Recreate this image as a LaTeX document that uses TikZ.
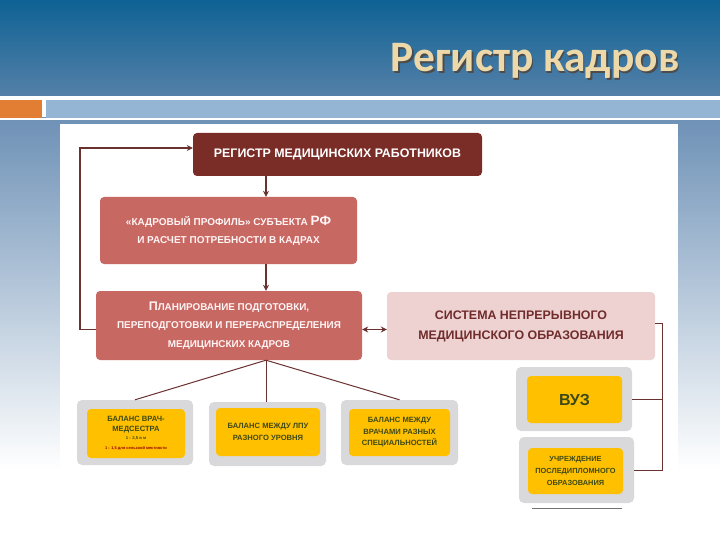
\documentclass[tikz,border=0pt]{standalone}
\usepackage{fontspec}
\setmainfont{Liberation Sans}
\newfontfamily\titlefont{Carlito}
\usetikzlibrary{arrows.meta,calc}
\definecolor{bandtop}{RGB}{14,98,148}
\definecolor{bandbot}{RGB}{84,128,168}
\definecolor{barblue}{RGB}{148,182,212}
\definecolor{barorange}{RGB}{226,126,52}
\definecolor{sideblue}{RGB}{110,145,182}
\definecolor{titlecol}{RGB}{236,216,168}
\definecolor{maroon}{RGB}{122,44,38}
\definecolor{salmon}{RGB}{200,104,99}
\definecolor{pinklight}{RGB}{238,210,209}
\definecolor{pinktext}{RGB}{112,44,44}
\definecolor{linecol}{RGB}{105,50,48}
\definecolor{grayout}{RGB}{217,217,219}
\definecolor{yellowin}{RGB}{255,192,0}
\definecolor{olivetext}{RGB}{62,74,22}
\tikzset{
  mainbox/.style={rounded corners=4pt, align=center, inner sep=0pt, font=\bfseries},
  outerbox/.style={fill=grayout, rounded corners=5pt, inner sep=0pt},
  innerbox/.style={fill=yellowin, rounded corners=4pt, inner sep=0pt, align=center,
    text=olivetext, font=\fontsize{7.6}{11.5}\selectfont\bfseries},
  arr/.style={draw=linecol, line width=1.3pt, -{Stealth[length=6pt,width=6pt]}},
  darr/.style={draw=linecol, line width=1.3pt, {Stealth[length=6pt,width=6pt]}-{Stealth[length=6pt,width=6pt]}},
  conn/.style={draw=linecol, line width=1pt},
}
\begin{document}
\begin{tikzpicture}[x=1pt,y=-1pt]
\useasboundingbox (0,0) rectangle (720,540);
% background
\shade[top color=sideblue, bottom color=white] (0,118) rectangle (720,470);
\fill[white] (0,470) rectangle (720,540);
\shade[top color=bandtop, bottom color=bandbot] (0,0) rectangle (720,96);
\fill[white] (0,96) rectangle (720,100);
\fill[barorange] (0,100) rectangle (42,118);
\fill[barblue] (46,100) rectangle (720,118);
\fill[white] (0,118) rectangle (720,120);
% title
\node[anchor=base east, text=black!70, font=\titlefont\bfseries\fontsize{43.5}{46}\selectfont] at (684.5,73.5) {Регистр кадров};
\node[anchor=base east, text=titlecol, font=\titlefont\bfseries\fontsize{43.5}{46}\selectfont] (title) at (683,72) {Регистр кадров};
% white panel
\fill[white] (60,124) rectangle (678,505);
% main boxes
\node[mainbox, fill=maroon, text=white, minimum width=289pt, minimum height=43pt,
  font=\bfseries\fontsize{12.4}{14}\selectfont] (reg) at (337.5,154.5) {РЕГИСТР МЕДИЦИНСКИХ РАБОТНИКОВ};
\node[mainbox, fill=salmon, text=white!96!red, minimum width=257pt, minimum height=67pt,
  font=\bfseries\fontsize{10}{18}\selectfont] (prof) at (228.5,230.5)
  {«КАДРОВЫЙ ПРОФИЛЬ» СУБЪЕКТА {\fontsize{13.5}{18}\selectfont РФ}\\И РАСЧЕТ ПОТРЕБНОСТИ В КАДРАХ};
\node[mainbox, fill=salmon, text=white!96!red, minimum width=266pt, minimum height=69pt,
  font=\bfseries\fontsize{9.9}{18.5}\selectfont] (plan) at (229,325.5)
  {{\fontsize{12.5}{18.5}\selectfont П}ЛАНИРОВАНИЕ ПОДГОТОВКИ,\\ПЕРЕПОДГОТОВКИ И ПЕРЕРАСПРЕДЕЛЕНИЯ\\МЕДИЦИНСКИХ КАДРОВ};
\node[mainbox, fill=pinklight, text=pinktext, minimum width=268pt, minimum height=68pt,
  font=\bfseries\fontsize{12.4}{20}\selectfont] (nmo) at (521,326)
  {СИСТЕМА НЕПРЕРЫВНОГО\\МЕДИЦИНСКОГО ОБРАЗОВАНИЯ};
% bottom boxes
\node[outerbox, minimum width=116pt, minimum height=65pt] (b1o) at (135,432.5) {};
\node[innerbox, minimum width=98pt, minimum height=49pt] (b1) at (136,433.5)
  {БАЛАНС ВРАЧ-\\[-1.5pt]МЕДСЕСТРА\\[-4pt]{\fontsize{4.2}{6}\selectfont 1 : 2,5 в м}\\[-1pt]{\fontsize{4}{6}\selectfont\color{red!60!black}1 : 1,5 для сельской местности}};
\node[outerbox, minimum width=117pt, minimum height=64pt] (b2o) at (267.5,434) {};
\node[innerbox, minimum width=104pt, minimum height=48pt] (b2) at (268,432)
  {БАЛАНС МЕЖДУ ЛПУ\\РАЗНОГО УРОВНЯ};
\node[outerbox, minimum width=117pt, minimum height=65pt] (b3o) at (399.5,432.5) {};
\node[innerbox, minimum width=101pt, minimum height=47pt] (b3) at (399.5,432.5)
  {БАЛАНС МЕЖДУ\\ВРАЧАМИ РАЗНЫХ\\СПЕЦИАЛЬНОСТЕЙ};
\node[outerbox, minimum width=116pt, minimum height=64pt] (vuzo) at (574,399) {};
\node[innerbox, minimum width=95pt, minimum height=47pt, font=\bfseries\fontsize{16}{18}\selectfont] (vuz) at (574.5,399.5) {ВУЗ};
\node[outerbox, minimum width=115pt, minimum height=66pt] (ucho) at (576.5,470) {};
\node[innerbox, minimum width=95pt, minimum height=46pt, font=\bfseries\fontsize{7.4}{12}\selectfont] (uch) at (575.5,471)
  {УЧРЕЖДЕНИЕ\\ПОСЛЕДИПЛОМНОГО\\ОБРАЗОВАНИЯ};
% cut line at bottom
\coordinate (cl1) at (532,508.5);
\coordinate (cl2) at (622,508.5);
\draw[black!55, line width=0.8pt] (cl1) -- (cl2);
% connectors
\coordinate (ax) at (266,0);
\draw[arr] (reg.south -| ax) -- (prof.north -| ax);
\draw[arr] (prof.south -| ax) -- (plan.north -| ax);
\coordinate (lx) at (80,0);
\draw[arr] ([yshift=-4pt]plan.west) -| ([yshift=6.5pt]reg.west -| lx) -- ([yshift=6.5pt]reg.west);
\draw[darr] ([yshift=-4pt]plan.east) -- ([yshift=-4pt]plan.east -| nmo.west);
\draw[conn] (plan.south -| ax) -- (b1o.north);
\draw[conn] (plan.south -| ax) -- (b2o.north -| ax);
\draw[conn] (plan.south -| ax) -- (b3o.north);
\coordinate (rx) at (662,0);
\draw[conn] ([yshift=3pt]nmo.east) -| (ucho.east -| rx) -- (ucho.east);
\draw[conn] (vuzo.east) -- (vuzo.east -| rx);
\end{tikzpicture}
\end{document}
